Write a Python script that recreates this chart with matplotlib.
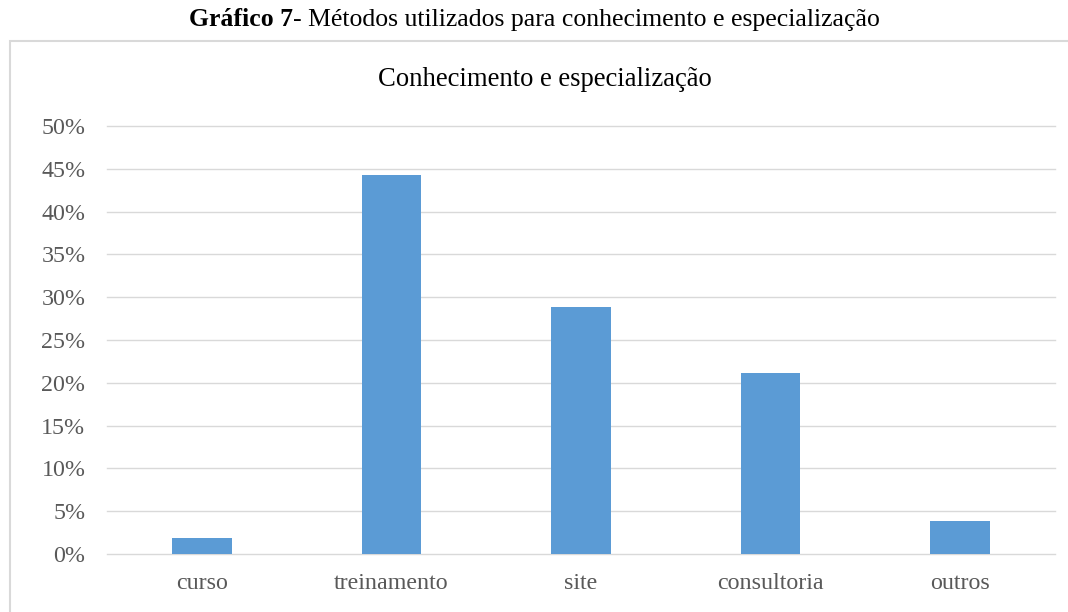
import matplotlib.pyplot as plt
from matplotlib.patches import Rectangle
from matplotlib.ticker import PercentFormatter
import numpy as np

categorias = ['curso', 'treinamento', 'site', 'consultoria', 'outros']
valores = [1.92, 44.23, 28.85, 21.15, 3.85]  # % das respostas
yticks = np.arange(0, 51, 5)

plt.rcParams['font.family'] = ['Liberation Serif', 'DejaVu Serif']

fig = plt.figure(figsize=(10.68, 6.12), dpi=100)

# moldura do grafico
fig.patches.append(Rectangle((10 / 1068, -0.05), 1.1, 1 - 41 / 612 + 0.05,
                             transform=fig.transFigure, fill=False,
                             edgecolor='#d9d9d9', linewidth=1.5))

# titulo: parte em negrito + resto, centrado no conjunto
y_tit = 1 - 20 / 612
t1 = fig.text(0, y_tit, 'Gráfico 7', ha='left', va='center',
              fontsize=18.5, fontweight='bold')
t2 = fig.text(0, y_tit, '- Métodos utilizados para conhecimento e especialização',
              ha='left', va='center', fontsize=18.5)
r = fig.canvas.get_renderer()
w1 = t1.get_window_extent(r).width
w2 = t2.get_window_extent(r).width
x0 = 534 - (w1 + w2) / 2
t1.set_x(x0 / 1068)
t2.set_x((x0 + w1) / 1068)

ax = fig.add_axes([107 / 1068, 1 - 554 / 612, (1055 - 107) / 1068, (554 - 126) / 612])
x = np.arange(len(categorias))
ax.bar(x, valores, width=0.315, color='#5b9bd5', zorder=3)

ax.set_xlim(-0.5, len(categorias) - 0.5)
ax.set_ylim(0, 50)
ax.set_yticks(yticks)
ax.yaxis.set_major_formatter(PercentFormatter(decimals=0))
ax.set_xticks(x)
ax.set_xticklabels(categorias)
ax.grid(axis='y', color='#d9d9d9', linewidth=1.0, zorder=0)
for gl in ax.get_ygridlines():
    gl.set_clip_on(False)
for s in ax.spines.values():
    s.set_visible(False)
ax.tick_params(length=0, labelsize=17.3, labelcolor='#595959')
ax.tick_params(axis='y', pad=15.5)
ax.tick_params(axis='x', pad=14)

fig.text(545 / 1068, 1 - 80 / 612, 'Conhecimento e especialização',
         ha='center', va='center', fontsize=19.2, color='#000000')

fig.savefig('out.png', dpi=100)
